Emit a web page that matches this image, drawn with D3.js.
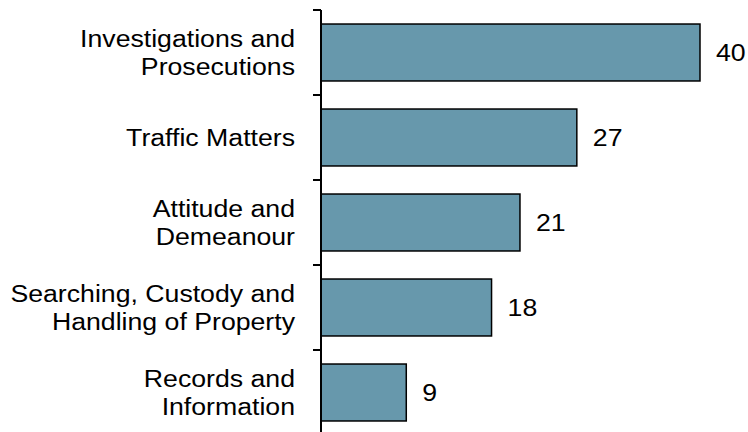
<!DOCTYPE html>
<html>
<head>
<meta charset="utf-8">
<script src="https://cdn.jsdelivr.net/npm/d3@7"></script>
<style>
  body { margin: 0; background: #fff; }
  svg { display: block; font-family: "Liberation Sans", Arial, sans-serif; }
</style>
</head>
<body>
<svg id="chart" width="748" height="432"></svg>
<script>
// complaint categories, top to bottom
var categories = [
  ["Investigations and", "Prosecutions"],
  ["Traffic Matters"],
  ["Attitude and", "Demeanour"],
  ["Searching, Custody and", "Handling of Property"],
  ["Records and", "Information"]
];
var values = [40, 27, 21, 18, 9];

var svg = d3.select("#chart");
var keys = categories.map(function(c) { return c.join(" "); });

var x = d3.scaleLinear().domain([0, 40]).range([321, 700]);
var y = d3.scaleBand().domain(keys).range([10, 435]).paddingInner(0.33).paddingOuter(0.165);

// tick marks at band boundaries
var step = y.step();
var bounds = d3.range(keys.length + 1).map(function(i) { return 10 + i * step; });

var g = svg.append("g");

g.selectAll("rect.bar")
  .data(values)
  .enter().append("rect")
  .attr("class", "bar")
  .attr("x", x(0))
  .attr("y", function(d, i) { return y(keys[i]); })
  .attr("width", function(d) { return x(d) - x(0); })
  .attr("height", y.bandwidth())
  .attr("fill", "#6798ac")
  .attr("stroke", "#000")
  .attr("stroke-width", 1.5);

// axis line + ticks
g.append("line")
  .attr("x1", x(0)).attr("x2", x(0))
  .attr("y1", 10).attr("y2", 435)
  .attr("stroke", "#000").attr("stroke-width", 2);
g.selectAll("line.tick")
  .data(bounds)
  .enter().append("line")
  .attr("class", "tick")
  .attr("x1", x(0) - 8).attr("x2", x(0))
  .attr("y1", function(d) { return d; }).attr("y2", function(d) { return d; })
  .attr("stroke", "#000").attr("stroke-width", 2);

// text in the original is a bit wider than it is tall
var fs = 23, lh = 28, sx = 1.16;

// category labels
categories.forEach(function(lines, i) {
  var cy = y(keys[i]) + y.bandwidth() / 2;
  var t = g.append("text")
    .attr("transform", "translate(295,0) scale(" + sx + ",1)")
    .attr("text-anchor", "end")
    .attr("font-size", fs)
    .attr("fill", "#000");
  lines.forEach(function(s, j) {
    t.append("tspan")
      .attr("x", 0)
      .attr("y", cy + (j - (lines.length - 1) / 2) * lh)
      .attr("dy", "0.35em")
      .text(s);
  });
});

// value labels
g.selectAll("text.val")
  .data(values)
  .enter().append("text")
  .attr("class", "val")
  .attr("transform", function(d) { return "translate(" + (x(d) + 16) + ",0) scale(" + sx + ",1)"; })
  .attr("x", 0)
  .attr("y", function(d, i) { return y(keys[i]) + y.bandwidth() / 2; })
  .attr("dy", "0.35em")
  .attr("font-size", fs)
  .attr("fill", "#000")
  .text(function(d) { return d; });
</script>
</body>
</html>
